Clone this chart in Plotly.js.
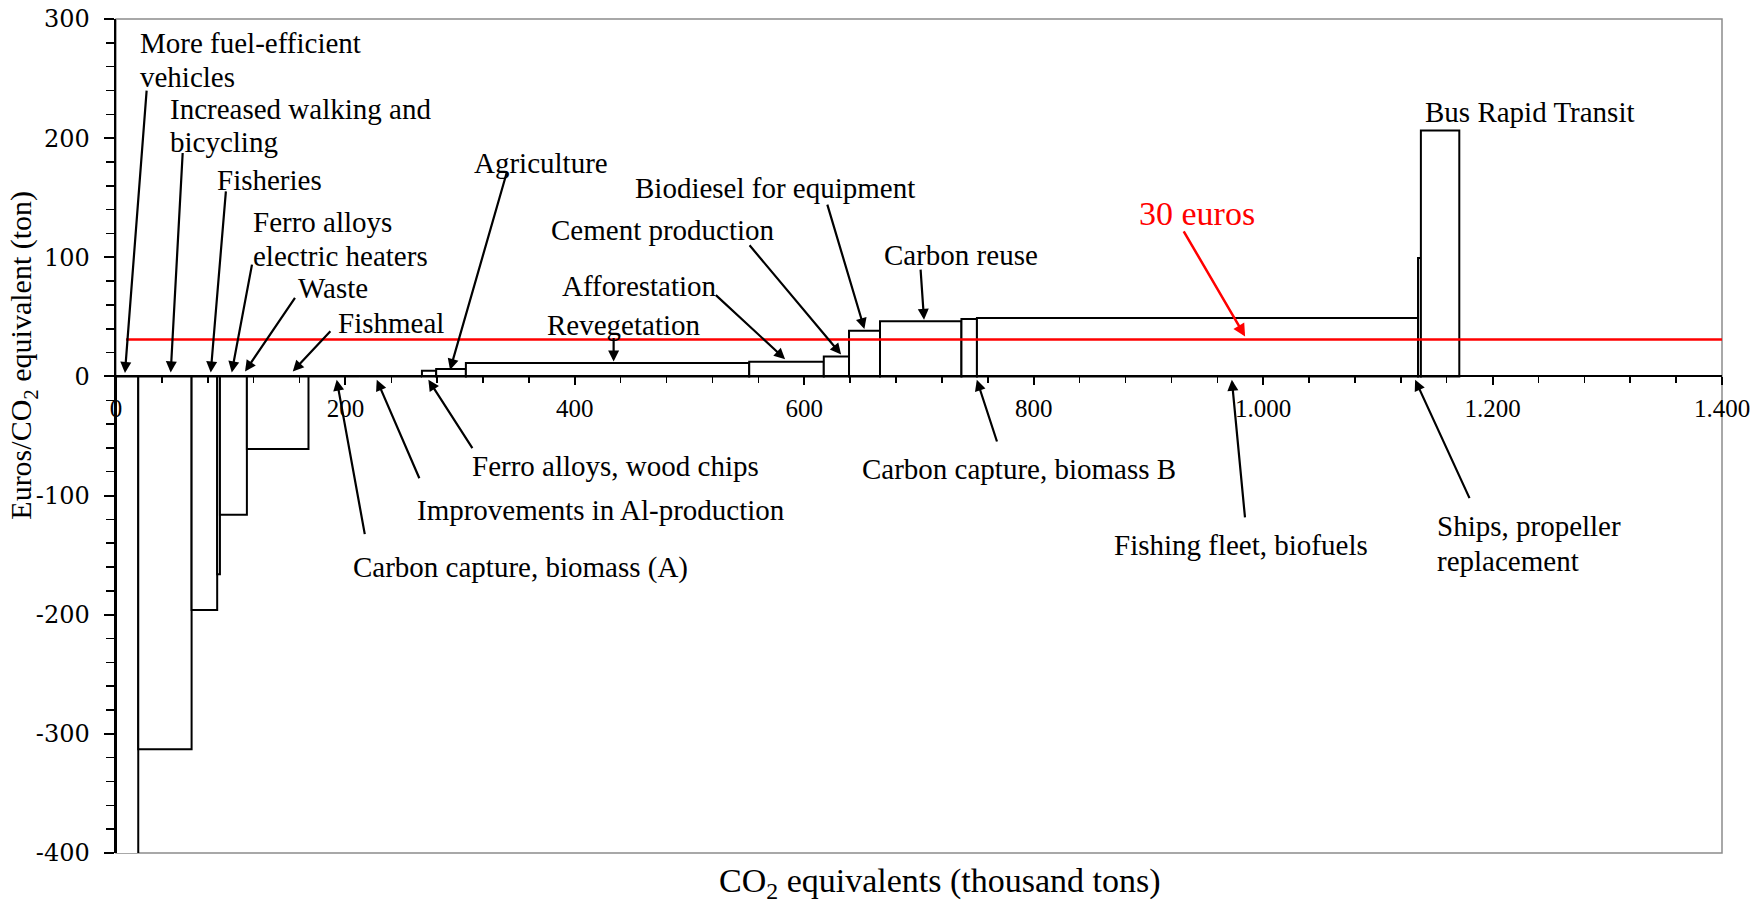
<!DOCTYPE html>
<html>
<head>
<meta charset="utf-8">
<script src="https://cdn.plot.ly/plotly-3.0.1.min.js"></script>
<style>
  html, body { margin: 0; padding: 0; background: #ffffff; }
  #chart { width: 1764px; height: 905px; }
</style>
</head>
<body>
<div id="chart"></div>
<script>
// ---------------- DATA ----------------
const categories = [
  "More fuel-efficient vehicles",
  "Increased walking and bicycling",
  "Fisheries",
  "Ferro alloys electric heaters",
  "Waste",
  "Fishmeal",
  "Carbon capture, biomass (A)",
  "Improvements in Al-production",
  "Ferro alloys, wood chips",
  "Agriculture",
  "Revegetation",
  "Afforestation",
  "Cement production",
  "Biodiesel for equipment",
  "Carbon reuse",
  "Carbon capture, biomass B",
  "Fishing fleet, biofuels",
  "Ships, propeller replacement",
  "Bus Rapid Transit"
];
// abatement potential, thousand tons CO2 equivalents (bar widths)
const abatementKt = [19.4, 46.5, 22.3, 2.4, 23.5, 53.7, 44.2, 54.7, 12.4, 25.9,
                     247.0, 65.0, 22.0, 27.0, 71.0, 13.5, 384.5, 2.5, 33.5];
// cost, euros per ton CO2 equivalent (bar heights; first one runs off the scale)
const costEurPerTon = [-450, -313, -196, -166, -116, -61, 0, 0, 4.8, 6.2,
                       11.2, 12.3, 16.8, 38.4, 46.3, 48.2, 49.1, 99.3, 206.5];
const thresholdCost = 31;          // drawn level of the "30 euros" line
const thresholdLabel = "30 euros";
const xTickVals = [0, 200, 400, 600, 800, 1000, 1200, 1400];
const xTickText = ["0", "200", "400", "600", "800", "1.000", "1.200", "1.400"];
const yTickVals = [-400, -300, -200, -100, 0, 100, 200, 300];
const yTickText = ["-400", "-300", "-200", "-100", "0", "100", "200", "300"];

// ---------------- derived positions of the bars ----------------
const starts = [];
let acc = 0;
for (const w of abatementKt) { starts.push(acc); acc += w; }
const centers = starts.map((s, i) => s + abatementKt[i] / 2);

// ---------------- label layout (text lines + arrow tip/tail) ----------------
const labelLayout = [
  {lines: [["More fuel-efficient", 279.7], ["vehicles", 251.7]], tx: 18.9, tip: [7.8, 2.9], tail: [26.8, 241.1]},
  {lines: [["Increased walking and", 224.6], ["bicycling", 197.1]], tx: 45.1, tip: [47.7, 3.4], tail: [58.2, 188.8]},
  {lines: [["Fisheries", 165.0]], tx: 86.3, tip: [82.6, 3.4], tail: [95.9, 156.6]},
  {lines: [["Ferro alloys", 130.0], ["electric heaters", 100.7]], tx: 117.7, tip: [100.9, 3.4], tail: [118.8, 95.1]},
  {lines: [["Waste", 74.2]], tx: 156.9, tip: [112.5, 4.2], tail: [156.9, 67.1]},
  {lines: [["Fishmeal", 44.8]], tx: 191.8, tip: [154.1, 4.2], tail: [188.1, 39.2]},
  {lines: [["Agriculture", 179.0]], tx: 309.9, tip: [291.2, 5.5], tail: [340.9, 172.0]},
  {lines: [["Biodiesel for equipment", 158.0]], tx: 450.6, tip: [652.4, 39.8], tail: [619.7, 145.5]},
  {lines: [["Cement production", 122.5]], tx: 377.8, tip: [632.1, 18.5], tail: [551.2, 111.3]},
  {lines: [["Afforestation", 75.5]], tx: 386.7, tip: [583.3, 14.5], tail: [521.6, 69.4]},
  {lines: [["Revegetation", 43.4]], tx: 373.7, tip: [433.8, 12.5], tail: [433.8, 33.6]},
  {lines: [["Carbon reuse", 102.1]], tx: 667.5, tip: [704.4, 47.5], tail: [701.3, 90.9]},
  {lines: [["Bus Rapid Transit", 222.3]], tx: 1139.2, tip: null, tail: null},
  {lines: [["Ferro alloys, wood chips", -74.9]], tx: 308.6, tip: [272.3, -2.8], tail: [311.5, -61.5]},
  {lines: [["Improvements in Al-production", -111.8]], tx: 260.7, tip: [227.3, -2.8], tail: [265.0, -86.7]},
  {lines: [["Carbon capture, biomass (A)", -160.2]], tx: 204.9, tip: [192.4, -2.8], tail: [217.1, -133.6]},
  {lines: [["Carbon capture, biomass B", -77.7]], tx: 648.7, tip: [750.4, -2.8], tail: [768.4, -55.9]},
  {lines: [["Fishing fleet, biofuels", -141.2]], tx: 868.1, tip: [972.7, -2.8], tail: [984.3, -119.6]},
  {lines: [["Ships, propeller", -125.8], ["replacement", -155.2]], tx: 1150.0, tip: [1132.5, -2.8], tail: [1180.5, -103.4]}
];

const SERIF = "Liberation Serif";
const annotations = [];
for (const L of labelLayout) {
  for (const [txt, ty] of L.lines) {
    annotations.push({
      xref: "x", yref: "y", x: L.tx, y: ty, text: txt,
      showarrow: false, xanchor: "left", yanchor: "middle", align: "left",
      font: {family: SERIF, size: 29, color: "#000000"}
    });
  }
  if (L.tip) {
    annotations.push({
      xref: "x", yref: "y", axref: "x", ayref: "y",
      x: L.tip[0], y: L.tip[1], ax: L.tail[0], ay: L.tail[1],
      text: "", showarrow: true, arrowhead: 2, arrowsize: 1, arrowwidth: 2.2,
      arrowcolor: "#000000", standoff: 0, startstandoff: 0
    });
  }
}
// red threshold label + arrow
annotations.push({
  xref: "x", yref: "y", x: 889.9, y: 136.5, text: thresholdLabel,
  showarrow: false, xanchor: "left", yanchor: "middle",
  font: {family: SERIF, size: 34, color: "#ff0000"}
});
annotations.push({
  xref: "x", yref: "y", axref: "x", ayref: "y",
  x: 984.3, y: thresholdCost + 2.5, ax: 930.0, ay: 123.1,
  text: "", showarrow: true, arrowhead: 2, arrowsize: 1, arrowwidth: 2.5,
  arrowcolor: "#ff0000", standoff: 0
});
// axis titles
annotations.push({
  xref: "paper", yref: "y", x: 0, xshift: -93, y: 17.4,
  text: "Euros/CO<sub>2</sub> equivalent (ton)", textangle: -90,
  showarrow: false, xanchor: "center", yanchor: "middle",
  font: {family: SERIF, size: 30, color: "#000000"}
});
annotations.push({
  xref: "x", yref: "paper", x: 718, y: 0, yshift: -30,
  text: "CO<sub>2</sub> equivalents (thousand tons)",
  showarrow: false, xanchor: "center", yanchor: "middle",
  font: {family: SERIF, size: 34, color: "#000000"}
});

const bars = {
  type: "bar",
  x: centers,
  y: costEurPerTon,
  width: abatementKt,
  base: 0,
  hovertext: categories,
  hoverinfo: "text",
  textposition: "none",
  marker: {color: "#ffffff", line: {color: "#000000", width: 2}},
  showlegend: false
};

const layout = {
  width: 1764, height: 905,
  margin: {l: 116, r: 42, t: 19, b: 52, pad: 0},
  paper_bgcolor: "#ffffff", plot_bgcolor: "#ffffff",
  font: {family: SERIF, color: "#000000"},
  bargap: 0,
  showlegend: false,
  xaxis: {
    range: [0, 1400], anchor: "free", position: 400 / 700,
    showgrid: false, zeroline: false,
    showline: true, linecolor: "#000000", linewidth: 2,
    tickmode: "array", tickvals: xTickVals, ticktext: xTickText,
    ticks: "outside", ticklen: 8, tickwidth: 2, tickcolor: "#000000",
    ticklabelstandoff: 2,
    minor: {tickmode: "linear", tick0: 0, dtick: 40, ticks: "outside", ticklen: 6, tickwidth: 1.5, tickcolor: "#000000", showgrid: false},
    tickfont: {family: SERIF, size: 25, color: "#000000"},
    fixedrange: true
  },
  yaxis: {
    range: [-400, 300],
    showgrid: false, zeroline: false,
    showline: true, linecolor: "#000000", linewidth: 2.5,
    tickmode: "array", tickvals: yTickVals, ticktext: yTickText,
    ticks: "outside", ticklen: 10, tickwidth: 2, tickcolor: "#000000",
    ticklabelstandoff: 9,
    minor: {tickmode: "linear", tick0: 0, dtick: 20, ticks: "outside", ticklen: 8, tickwidth: 1.5, tickcolor: "#000000", showgrid: false},
    tickfont: {family: "DejaVu Serif", size: 24, color: "#000000"},
    fixedrange: true
  },
  shapes: [
    {type: "rect", xref: "paper", yref: "paper", x0: 0, x1: 1, y0: 0, y1: 1,
     line: {color: "#8c8c8c", width: 1.5}, fillcolor: "rgba(0,0,0,0)", layer: "below"},
    {type: "line", xref: "x", yref: "y", x0: 8.7, x1: 1400, y0: thresholdCost, y1: thresholdCost,
     line: {color: "#ff0000", width: 2.5}, layer: "above"}
  ],
  annotations: annotations
};

Plotly.newPlot("chart", [bars], layout, {staticPlot: true, displayModeBar: false});
</script>
</body>
</html>
